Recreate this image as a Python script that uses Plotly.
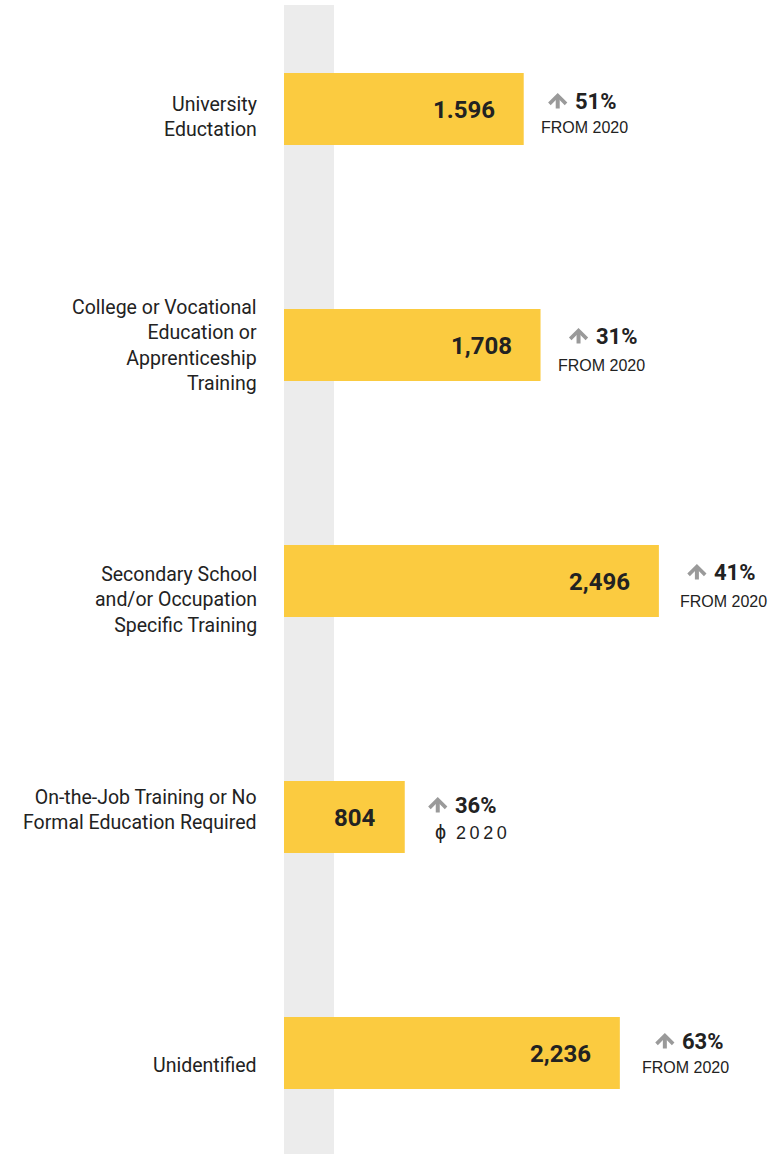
import plotly.graph_objects as go

categories = ["University<br>Eductation",
              "College or Vocational<br>Education or<br>Apprenticeship<br>Training",
              "Secondary School<br>and/or Occupation<br>Specific Training",
              "On-the-Job Training or No<br>Formal Education Required",
              "Unidentified"]
values = [1596, 1708, 2496, 804, 2236]
value_labels = ["1.596", "1,708", "2,496", "804", "2,236"]
changes = ["51%", "31%", "41%", "36%", "63%"]
sub_labels = ["FROM 2020", "FROM 2020", "FROM 2020",
              "<span style='font-size:20px'>\u0278</span>  2\u20090\u20092\u20090", "FROM 2020"]

# layout tweaks (pixel offsets)
label_yshift = [-8, 0, -19, 7, -12]
arrow_left = [25, 29, 29, 24, 36]
pct_yshift = [8, 9, 9, 12, 12]
sub_xshift = [61, 61, 65, 66, 66]
sub_yshift = [-18, -20, -20, -15, -14]
sub_size = [16, 16, 16, 18, 16]

ypos = list(range(len(values)))
px_per_unit = 0.1502
W, H = 784, 1154
left = 284
xmax = (W - left) / px_per_unit

fig = go.Figure()
fig.add_trace(go.Bar(x=values, y=ypos, orientation="h", width=0.305,
                     marker=dict(color="#FBCB40", line=dict(width=0)),
                     hoverinfo="skip"))

fig.add_shape(type="rect", xref="x", yref="paper", x0=0, x1=50 / px_per_unit,
              y0=0, y1=1, fillcolor="#ECECEC", line=dict(width=0), layer="below")

ann = []
for i, v in enumerate(values):
    ann.append(dict(x=0, y=i, xref="x", yref="y", text=categories[i], showarrow=False,
                    xanchor="right", yanchor="middle", align="right", xshift=-25,
                    yshift=label_yshift[i],
                    font=dict(family="Roboto", size=19.5, color="#222")))
    ann.append(dict(x=v, y=i, xref="x", yref="y", text="<b>" + value_labels[i] + "</b>",
                    showarrow=False, xanchor="right", yanchor="middle", xshift=-27,
                    yshift=-1,
                    font=dict(family="Roboto", size=24, color="#222")))
    # up arrow (drawn as annotation arrow)
    ann.append(dict(x=v, y=i, xref="x", yref="y", text="", showarrow=True,
                    ax=0, ay=17, arrowhead=4, arrowwidth=4, arrowsize=0.8,
                    arrowcolor="#9a9a9a", standoff=0, startstandoff=0,
                    xshift=arrow_left[i] + 9, yshift=pct_yshift[i] + 8))
    ann.append(dict(x=v, y=i, xref="x", yref="y", text="<b>" + changes[i] + "</b>",
                    showarrow=False, xanchor="left", yanchor="middle",
                    xshift=arrow_left[i] + 24, yshift=pct_yshift[i],
                    font=dict(family="Roboto", size=22, color="#222")))
    ann.append(dict(x=v, y=i, xref="x", yref="y", text=sub_labels[i],
                    showarrow=False, xanchor="center", yanchor="middle",
                    xshift=sub_xshift[i], yshift=sub_yshift[i],
                    font=dict(family="Liberation Sans", size=sub_size[i], color="#222")))

plot_h = H - 5
top_off = 104 / 236
fig.update_layout(
    width=W, height=H,
    margin=dict(l=left, r=0, t=5, b=0),
    paper_bgcolor="white", plot_bgcolor="white",
    showlegend=False,
    xaxis=dict(range=[0, xmax], visible=False, fixedrange=True),
    yaxis=dict(range=[-top_off + plot_h / 236, -top_off], visible=False, fixedrange=True),
    annotations=ann,
)
fig.write_html("out.html")
